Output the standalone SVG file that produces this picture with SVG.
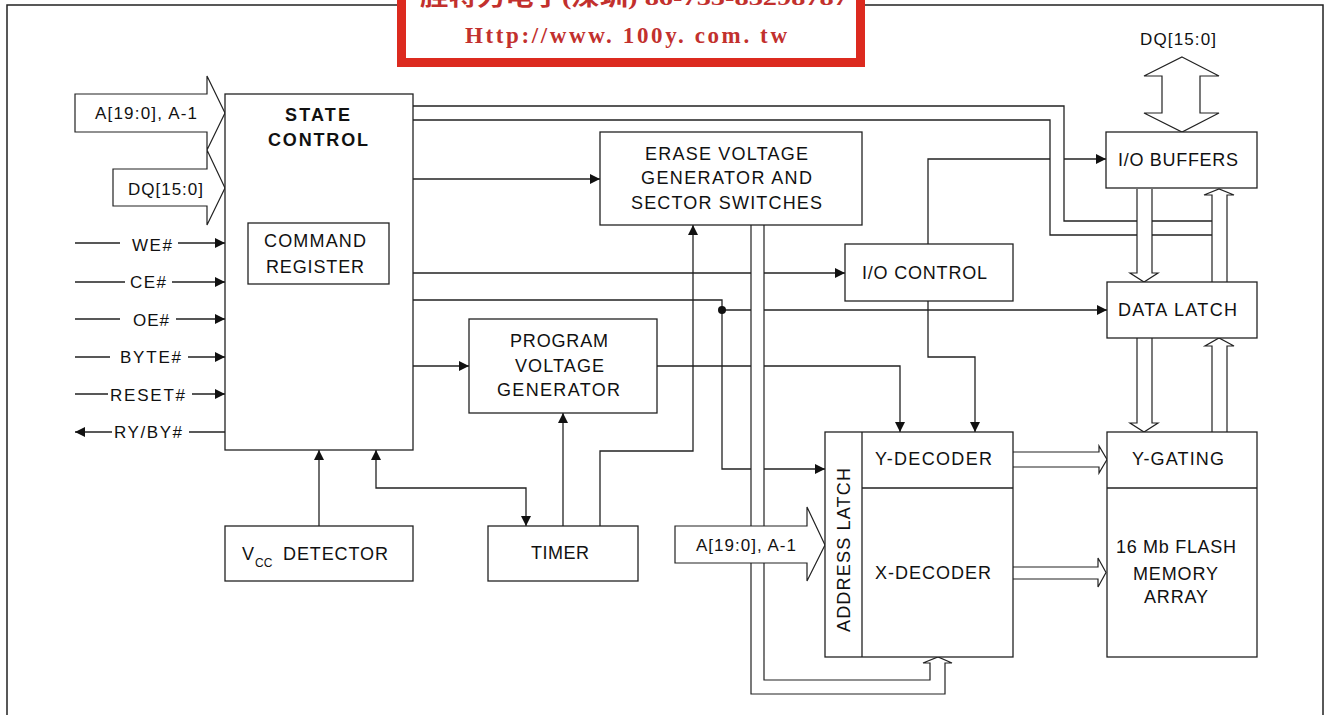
<svg xmlns="http://www.w3.org/2000/svg" width="1325" height="715" viewBox="0 0 1325 715">
<defs>
<style>
.b{fill:#fff;stroke:#222;stroke-width:1.3}
.l{fill:none;stroke:#222;stroke-width:1.3}
.h{fill:#fff;stroke:#222;stroke-width:1.2}
.t{font-family:"Liberation Sans",Arial,sans-serif;font-size:18px;fill:#111}
.s{font-family:"Liberation Sans",Arial,sans-serif;font-size:17px;fill:#111}
.bt{font-family:"Liberation Sans",Arial,sans-serif;font-size:18px;font-weight:bold;fill:#111}
</style>
<marker id="ar" viewBox="0 0 10 10" refX="10" refY="5" markerWidth="10" markerHeight="10" markerUnits="userSpaceOnUse" orient="auto-start-reverse">
<path d="M0,0 L10,5 L0,10 z" fill="#111"/>
</marker>
</defs>
<rect width="1325" height="715" fill="#fff"/>
<rect x="7" y="5" width="1316" height="730" fill="none" stroke="#222" stroke-width="1.5"/>

<g id="banner">
<rect x="401.5" y="-20" width="459" height="82.5" fill="#fff" stroke="#dc2a1f" stroke-width="9"/>
<text x="420" y="5" textLength="428" lengthAdjust="spacingAndGlyphs" font-family="'Liberation Serif','Noto Sans CJK SC',serif" font-size="22" font-weight="bold" fill="#c2302d">胜特力电子(深圳) 86-755-83298787</text>
<text x="465" y="43" textLength="322" lengthAdjust="spacing" font-family="'Liberation Serif',serif" font-size="23" font-weight="bold" fill="#c2302d">Http://www. 100y. com. tw</text>
</g>

<g id="connectors">
<path class="l" d="M75,243 H120 M178,243 H225" marker-end="url(#ar)"/>
<path class="l" d="M75,282 H125 M172,282 H225" marker-end="url(#ar)"/>
<path class="l" d="M75,319 H120 M176,319 H225" marker-end="url(#ar)"/>
<path class="l" d="M75,357 H110 M188,357 H225" marker-end="url(#ar)"/>
<path class="l" d="M75,394 H108 M192,394 H225" marker-end="url(#ar)"/>
<path class="l" d="M225,432 H189"/>
<path class="l" d="M112,432 H75" marker-end="url(#ar)"/>
<path class="l" d="M413,106 H1064 V221 H1212"/>
<path class="l" d="M413,120 H1050 V235 H1212"/>
<path class="l" d="M413,179 H600" marker-end="url(#ar)"/>
<path class="l" d="M413,273 H845" marker-end="url(#ar)"/>
<path class="l" d="M413,300 H722 V469 H825" marker-end="url(#ar)"/>
<path class="l" d="M722,310 H1107" marker-end="url(#ar)"/>
<circle cx="722" cy="310" r="4" fill="#111"/>
<path class="l" d="M413,366 H469" marker-end="url(#ar)"/>
<path class="l" d="M657,366 H900 V432" marker-end="url(#ar)"/>
<path class="l" d="M928,244 V159 H1050"/>
<path class="l" d="M1064,159 H1106" marker-end="url(#ar)"/>
<path class="l" d="M928,301 V357 H975 V432" marker-end="url(#ar)"/>
<path class="l" d="M319,526 V450" marker-end="url(#ar)"/>
<path class="l" d="M376,450 V488 H526 V526" marker-start="url(#ar)" marker-end="url(#ar)"/>
<path class="l" d="M563,526 V413" marker-end="url(#ar)"/>
<path class="l" d="M600,526 V451 H693 V225" marker-end="url(#ar)"/>
<path class="h" d="M751,225 V694 H945 V663 H952 L938,657 L923,663 H930 V680 H764 V225"/>
<path class="h" d="M1137,189 V273 H1130 L1144,282 L1158,273 H1152 V189"/>
<path class="h" d="M1212,282 V195 H1204 L1219,189 L1234,195 H1227 V282"/>
<path class="h" d="M1137,338 V423 H1130 L1144,432 L1158,423 H1152 V338"/>
<path class="h" d="M1212,432 V346 H1205 L1219,338 L1234,346 H1227 V432"/>
<path class="h" d="M1013,452 H1099 V446 L1107,459.5 L1099,473 V467 H1013"/>
<path class="h" d="M1013,567 H1098 V558 L1106,572.5 L1098,587 V579 H1013"/>
<polygon class="h" points="1182,57 1219,76 1200,76 1200,113 1219,113 1182,132 1144,113 1162,113 1162,76 1144,76"/>
<polygon class="h" points="75,94 207,94 207,76 225,113 207,150 207,132 75,132"/>
<polygon class="h" points="113,169 207,169 207,150 225,188 207,225 207,206 113,206"/>
<polygon class="h" points="675,526 807,526 807,507 825,545 807,581 807,563 675,563"/>
</g>

<g id="labels">
<text class="s" x="95" y="119" textLength="102" lengthAdjust="spacing">A[19:0], A-1</text>
<text class="s" x="128" y="195" textLength="75" lengthAdjust="spacing">DQ[15:0]</text>
<text class="s" x="132" y="251" textLength="40" lengthAdjust="spacing">WE#</text>
<text class="s" x="130" y="288" textLength="36" lengthAdjust="spacing">CE#</text>
<text class="s" x="133" y="326" textLength="36" lengthAdjust="spacing">OE#</text>
<text class="s" x="120" y="363" textLength="61" lengthAdjust="spacing">BYTE#</text>
<text class="s" x="110" y="401" textLength="75" lengthAdjust="spacing">RESET#</text>
<text class="s" x="114" y="438" textLength="68" lengthAdjust="spacing">RY/BY#</text>
<text class="s" x="1140" y="45" textLength="76" lengthAdjust="spacing">DQ[15:0]</text>
<text class="s" x="696" y="551" textLength="100" lengthAdjust="spacing">A[19:0], A-1</text>
</g>

<g id="state-control">
<rect class="b" x="225" y="94" width="188" height="356"/>
<text class="bt" x="285" y="121" textLength="65" lengthAdjust="spacing">STATE</text>
<text class="bt" x="268" y="146" textLength="100" lengthAdjust="spacing">CONTROL</text>
</g>
<g id="command-register">
<rect class="b" x="248" y="223" width="141" height="61"/>
<text class="t" x="264" y="247" textLength="102" lengthAdjust="spacing">COMMAND</text>
<text class="t" x="266" y="273" textLength="98" lengthAdjust="spacing">REGISTER</text>
</g>
<g id="erase-voltage">
<rect class="b" x="600" y="132" width="262" height="93"/>
<text class="t" x="645" y="160" textLength="163" lengthAdjust="spacing">ERASE VOLTAGE</text>
<text class="t" x="641" y="184" textLength="171" lengthAdjust="spacing">GENERATOR AND</text>
<text class="t" x="631" y="209" textLength="191" lengthAdjust="spacing">SECTOR SWITCHES</text>
</g>
<g id="program-voltage">
<rect class="b" x="469" y="319" width="188" height="94"/>
<text class="t" x="510" y="347" textLength="98" lengthAdjust="spacing">PROGRAM</text>
<text class="t" x="515" y="372" textLength="89" lengthAdjust="spacing">VOLTAGE</text>
<text class="t" x="497" y="396" textLength="123" lengthAdjust="spacing">GENERATOR</text>
</g>
<g id="io-buffers">
<rect class="b" x="1106" y="132" width="151" height="56"/>
<text class="t" x="1118" y="166" textLength="120" lengthAdjust="spacing">I/O BUFFERS</text>
</g>
<g id="io-control">
<rect class="b" x="845" y="244" width="168" height="57"/>
<text class="t" x="862" y="279" textLength="125" lengthAdjust="spacing">I/O CONTROL</text>
</g>
<g id="data-latch">
<rect class="b" x="1107" y="282" width="150" height="56"/>
<text class="t" x="1118" y="316" textLength="119" lengthAdjust="spacing">DATA LATCH</text>
</g>
<g id="decoders">
<rect class="b" x="825" y="432" width="188" height="225"/>
<path class="l" d="M862,432 V657 M862,488 H1013"/>
<text class="t" x="875" y="465" textLength="117" lengthAdjust="spacing">Y-DECODER</text>
<text class="t" x="875" y="579" textLength="116" lengthAdjust="spacing">X-DECODER</text>
<text class="t" transform="translate(850,632) rotate(-90)" x="0" y="0" textLength="164" lengthAdjust="spacing">ADDRESS LATCH</text>
</g>
<g id="memory-array">
<rect class="b" x="1107" y="432" width="150" height="225"/>
<path class="l" d="M1107,488 H1257"/>
<text class="t" x="1132" y="465" textLength="92" lengthAdjust="spacing">Y-GATING</text>
<text class="t" x="1116" y="553" textLength="120" lengthAdjust="spacing">16 Mb FLASH</text>
<text class="t" x="1133" y="580" textLength="85" lengthAdjust="spacing">MEMORY</text>
<text class="t" x="1144" y="603" textLength="64" lengthAdjust="spacing">ARRAY</text>
</g>
<g id="vcc-detector">
<rect class="b" x="225" y="526" width="188" height="55"/>
<text class="t" x="242" y="560">V<tspan font-size="12" dy="7" dx="1">CC</tspan><tspan dy="-7" x="283" textLength="105" lengthAdjust="spacing">DETECTOR</tspan></text>
</g>
<g id="timer">
<rect class="b" x="488" y="526" width="150" height="55"/>
<text class="t" x="531" y="559" textLength="58" lengthAdjust="spacing">TIMER</text>
</g>
</svg>
